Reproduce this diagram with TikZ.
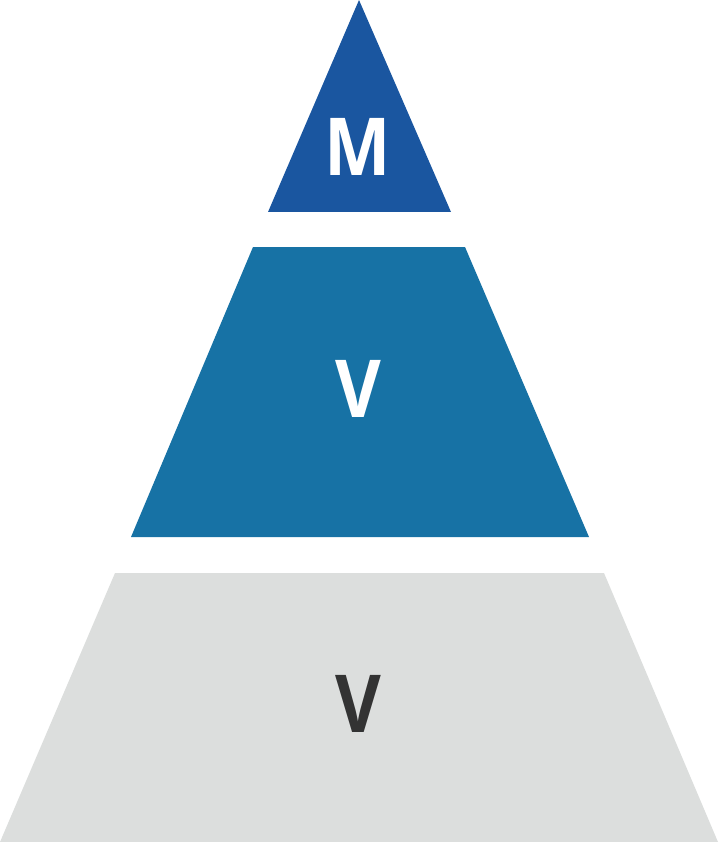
\documentclass[tikz,border=0pt]{standalone}
\usepackage{fontspec}
\setmainfont{Open Sans}
\definecolor{topblue}{HTML}{1A56A0}
\definecolor{midblue}{HTML}{1772A5}
\definecolor{lightgray}{HTML}{DCDEDD}
\definecolor{darktext}{HTML}{333333}
\begin{document}
\begin{tikzpicture}[x=1pt,y=-1pt,
  lbl/.style={font=\fontsize{80}{80}\selectfont\bfseries, inner sep=0pt, anchor=center, xscale=0.88}]
\useasboundingbox (0,0) rectangle (718,842);
\fill[topblue] (359,0) -- (451,212) -- (268,212) -- cycle;
\fill[midblue] (253,247) -- (465,247) -- (589,537) -- (131,537) -- cycle;
\fill[lightgray] (115,573) -- (604,573) -- (718,842) -- (0,842) -- cycle;
\node[lbl, text=white] (m) at (358,146.5) {M};
\node[lbl, text=white] (v1) at (358,389) {V};
\node[lbl, text=darktext] (v2) at (358.5,703.5) {V};
\end{tikzpicture}
\end{document}
